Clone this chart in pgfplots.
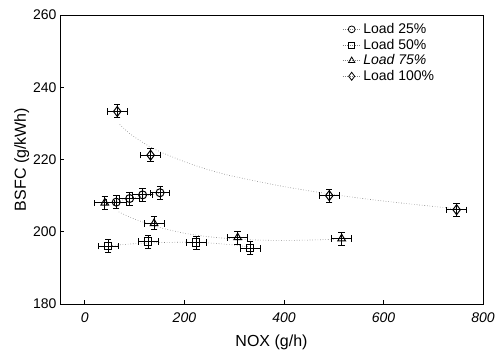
\documentclass[border=0pt]{standalone}
\usepackage{pgfplots}
\pgfplotsset{compat=1.18}
\usepackage{fontspec}
\setmainfont{Liberation Sans}
\pgfplotstableread{
x y
63 208.2
90 209.2
116 210.2
151 210.8
}\loadA
\pgfplotstableread{
x y
47 196.0
127 197.3
224 197.0
332 195.4
}\loadB
\pgfplotstableread{
x y
40 208.0
139 202.3
307 198.4
516 198.1
}\loadC
\pgfplotstableread{
x y
65 233.3
132 221.2
491 210.0
747 206.1
}\loadD
\begin{document}
\begin{tikzpicture}
\begin{axis}[
  scale only axis, width=423pt, height=289pt,
  xmin=-50, xmax=800, ymin=180, ymax=260,
  xtick={0,200,400,600,800}, ytick={180,200,220,240,260},
  xticklabel style={font=\fontsize{14}{16}\selectfont\itshape, yshift=-5pt},
  yticklabel style={font=\fontsize{14}{16}\selectfont},
  /pgf/number format/assume math mode=true,
  xlabel={NOX (g/h)}, ylabel={BSFC (g/kWh)},
  label style={font=\fontsize{16}{18}\selectfont},
  xlabel style={yshift=-6pt}, ylabel style={yshift=-3pt},
  tick align=inside, xtick pos=bottom, ytick pos=left,
  major tick length=4pt,
  axis line style={line width=0.9pt},
  every tick/.style={black, line width=0.8pt},
  legend style={draw=none, fill=none, at={(rel axis cs:0.66,0.985)}, anchor=north west,
    font=\fontsize{14}{16}\selectfont, row sep=0pt},
  legend cell align=left,
  legend image code/.code={\draw[dotted, gray] (0cm,0cm) -- (0.65cm,0cm); \draw[#1, black, solid, line width=0.8pt] plot coordinates {(0.32cm,0cm)};},
  ebar/.style={draw=none, mark=none, forget plot,
    error bars/.cd, x dir=both, x fixed=20, y dir=both, y fixed=1.8,
    error bar style={draw=black, line width=1pt},
    error mark options={rotate=90, mark size=3.2pt, line width=1pt, draw=black}},
]
\addlegendimage{mark=o, mark size=3.4pt, mark options={fill=white}}
\addlegendentry{Load 25\%}
\addlegendimage{mark=square, mark size=3pt, mark options={fill=white}}
\addlegendentry{Load 50\%}
\addlegendimage{mark=triangle, mark size=3.6pt, mark options={fill=white}}
\addlegendentry{\textit{Load 75\%}}
\addlegendimage{mark=diamond, mark size=4pt, mark options={fill=white}}
\addlegendentry{Load 100\%}

% trend lines
\addplot[gray, dotted, line width=0.6pt, forget plot, smooth] coordinates {
(70,229.7) (90,227.2) (120,224.4) (150,222.2) (200,219.4) (250,217.1) (300,215.3) (400,212.5) (500,210.3) (600,208.5) (750,206.3)};
\addplot[gray, dotted, line width=0.6pt, forget plot, smooth] coordinates {
(68,205.5) (100,203.5) (150,201.2) (200,199.6) (250,198.6) (300,198.0) (350,197.7) (400,197.6) (450,197.7) (500,197.9)};
\addplot[gray, dotted, line width=0.6pt, forget plot, smooth] coordinates {
(55,196.2) (100,196.7) (150,197.0) (200,197.1) (250,196.9) (300,196.3) (330,195.8)};
\addplot[gray, dotted, line width=0.6pt, forget plot, smooth] coordinates {
(60,208.3) (100,209.5) (150,210.6)};

% error bars
\addplot[ebar] table {\loadA};
\addplot[ebar] table {\loadB};
\addplot[ebar] table {\loadC};
\addplot[ebar] table {\loadD};
% marks
\addplot[only marks, mark=o, mark size=4pt, line width=1pt, mark options={fill=white}, forget plot] table {\loadA};
\addplot[only marks, mark=square, mark size=3.6pt, line width=1pt, mark options={fill=white}, forget plot] table {\loadB};
\addplot[only marks, mark=triangle, mark size=4.4pt, line width=1pt, mark options={fill=white}, forget plot] table {\loadC};
\addplot[only marks, mark=diamond, mark size=5pt, line width=1pt, mark options={fill=white}, forget plot] table {\loadD};
\end{axis}
\path (current axis.south west) ++(-60pt,-50pt) coordinate (bl);
\path (current axis.north east) ++(19pt,15pt) coordinate (tr);
\pgfresetboundingbox
\path[use as bounding box] (bl) rectangle (tr);
\end{tikzpicture}
\end{document}
